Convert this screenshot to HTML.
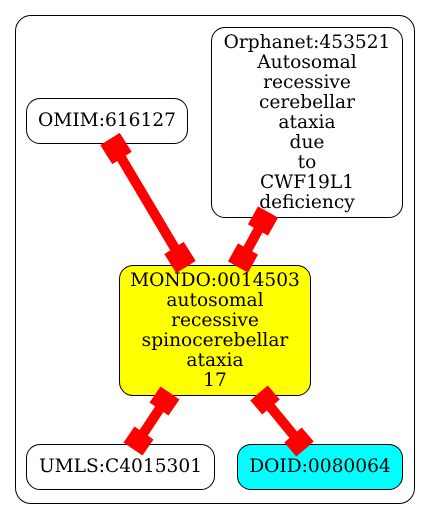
<!DOCTYPE html>
<html><head><style>
body{margin:0;width:429px;height:519px;background:#fff;position:relative;overflow:hidden;font-family:"DejaVu Serif","Liberation Serif",serif;}
.b{position:absolute;box-sizing:border-box;border:1px solid #000;border-radius:14px;display:flex;align-items:center;justify-content:center;text-align:center;font-size:18.6px;line-height:20px;color:#000;}
</style></head><body>
<div class="b" style="left:15px;top:15px;width:400px;height:489px;border-radius:16px"></div>
<div class="b" style="left:26px;top:98px;width:162px;height:46px">OMIM:616127</div>
<div class="b" style="left:211px;top:27px;width:192px;height:191px">Orphanet:453521<br>Autosomal<br>recessive<br>cerebellar<br>ataxia<br>due<br>to<br>CWF19L1<br>deficiency</div>
<div class="b" style="left:119px;top:265px;width:192px;height:131px;background:#ff0">MONDO:0014503<br>autosomal<br>recessive<br>spinocerebellar<br>ataxia<br>17</div>
<div class="b" style="left:26px;top:444px;width:189px;height:46px">UMLS:C4015301</div>
<div class="b" style="left:237px;top:444px;width:166px;height:46px;background:#0ff">DOID:0080064</div>
<svg width="429" height="519" style="position:absolute;left:0;top:0" stroke="#f00" stroke-linecap="butt">
<g stroke-width="10">
<line x1="110" y1="139" x2="186" y2="267"/>
<line x1="268" y1="212" x2="238" y2="267"/>
<line x1="170" y1="393" x2="133" y2="449"/>
<line x1="259" y1="393" x2="305" y2="449"/>
</g>
<g stroke-width="23">
<line x1="110" y1="139" x2="122" y2="158"/><line x1="174" y1="248" x2="186" y2="267"/>
<line x1="268" y1="212" x2="258" y2="230"/><line x1="248" y1="249" x2="238" y2="267"/>
<line x1="170" y1="393" x2="159" y2="409"/><line x1="144" y1="433" x2="133" y2="449"/>
<line x1="259" y1="393" x2="271" y2="407"/><line x1="293" y1="435" x2="305" y2="449"/>
</g>
</svg>
</body></html>
